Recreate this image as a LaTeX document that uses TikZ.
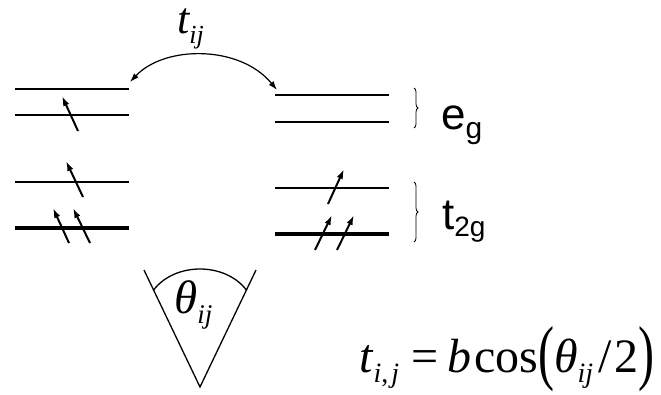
\documentclass[tikz,border=0pt]{standalone}
\usepackage{fontspec}
\usepackage{graphicx}
\setmainfont{Liberation Serif}
\newfontfamily\sansf{Liberation Sans}
\usetikzlibrary{arrows.meta,decorations.pathreplacing}
\begin{document}
\begin{tikzpicture}[x=1pt,y=-1pt,
  lvl/.style={line width=1.3pt},
  lvlmed/.style={line width=2pt},
  lvlthick/.style={line width=4pt},
  spin/.style={line width=2pt,-{Latex[length=10pt,width=6.5pt]}},
  hop/.style={line width=1.2pt,{Latex[length=9pt,width=6pt]}-{Latex[length=9pt,width=6pt]}},
  wedge/.style={line width=1.3pt},
  brc/.style={line width=0.8pt,decorate,decoration={brace,amplitude=4pt}},
  lab/.style={inner sep=0pt,anchor=base west}]
\useasboundingbox (0,0) rectangle (661,394);
% left ion levels
\coordinate (L1a) at (15,89);  \coordinate (L1b) at (129,89);
\coordinate (L2a) at (15,115); \coordinate (L2b) at (129,115);
\coordinate (L3a) at (15,182); \coordinate (L3b) at (129,182);
\coordinate (L4a) at (15,228); \coordinate (L4b) at (129,228);
\draw[lvlmed] (L1a) -- (L1b);
\draw[lvl] (L2a) -- (L2b);
\draw[lvl] (L3a) -- (L3b);
\draw[lvlthick] (L4a) -- (L4b);
% right ion levels
\coordinate (R1a) at (275,95);  \coordinate (R1b) at (389,95);
\coordinate (R2a) at (275,122); \coordinate (R2b) at (389,122);
\coordinate (R3a) at (275,188); \coordinate (R3b) at (389,188);
\coordinate (R4a) at (275,234); \coordinate (R4b) at (389,234);
\draw[lvl] (R1a) -- (R1b);
\draw[lvlmed] (R2a) -- (R2b);
\draw[lvl] (R3a) -- (R3b);
\draw[lvlthick] (R4a) -- (R4b);
% spins left
\coordinate (s1t) at (78,131); \coordinate (s1h) at (62,96);
\coordinate (s2t) at (83,197); \coordinate (s2h) at (66,161);
\coordinate (s3t) at (69,243); \coordinate (s3h) at (53,208);
\coordinate (s4t) at (90,243); \coordinate (s4h) at (73,208);
\draw[spin] (s1t) -- (s1h);
\draw[spin] (s2t) -- (s2h);
\draw[spin] (s3t) -- (s3h);
\draw[spin] (s4t) -- (s4h);
% spins right
\coordinate (s5t) at (328,204); \coordinate (s5h) at (344,169);
\coordinate (s6t) at (315,250); \coordinate (s6h) at (332,215);
\coordinate (s7t) at (337,250); \coordinate (s7h) at (354,215);
\draw[spin] (s5t) -- (s5h);
\draw[spin] (s6t) -- (s6h);
\draw[spin] (s7t) -- (s7h);
% hopping arc
\coordinate (hA) at (130,82); \coordinate (hB) at (277,90);
\draw[hop] (hA) .. controls (165,45) and (240,45) .. (hB);
\node[lab] (tij) at (177,33) {\fontsize{44}{44}\selectfont\itshape t\raisebox{-10pt}{\fontsize{26}{26}\selectfont ij}};
% braces and labels
\coordinate (b1t) at (414,88);  \coordinate (b1b) at (414,128);
\coordinate (b2t) at (414,182); \coordinate (b2b) at (414,242);
\draw[brc] (b1t) -- (b1b);
\draw[brc] (b2t) -- (b2b);
\node[lab] (eg) at (441,129) {\sansf\fontsize{44}{44}\selectfont e\raisebox{-9pt}{\fontsize{30}{30}\selectfont g}};
\node[lab] (t2g) at (442,229) {\sansf\fontsize{44}{44}\selectfont t\raisebox{-7pt}{\fontsize{28}{28}\selectfont 2g}};
% wedge
\coordinate (wL) at (144,270); \coordinate (wR) at (256,270); \coordinate (wA) at (200,387);
\draw[wedge] (wL) -- (wA) -- (wR);
\draw[wedge] (153.6,290) .. controls (175,262) and (225,262) .. (246.4,290);
\node[lab] (theta) at (174,313) {\fontsize{47}{47}\selectfont\textit{θ}\raisebox{-10pt}{\fontsize{27}{27}\selectfont\textit{ij}}};
% formula
\node[lab] (formula) at (359,372) {\fontsize{48}{48}\selectfont
  \textit{t}\raisebox{-10pt}{\fontsize{28}{28}\selectfont\textit{i},\hspace{3pt}\textit{j}}\hspace{12pt}=\hspace{9pt}\textit{b}\hspace{3pt}cos\raisebox{-4pt}{\scalebox{1}[1.5]{(}}\textit{θ}\raisebox{-10pt}{\fontsize{28}{28}\selectfont\textit{ij}}\hspace{5pt}/\hspace{3pt}2\raisebox{-4pt}{\scalebox{1}[1.5]{)}}};
\end{tikzpicture}
\end{document}
